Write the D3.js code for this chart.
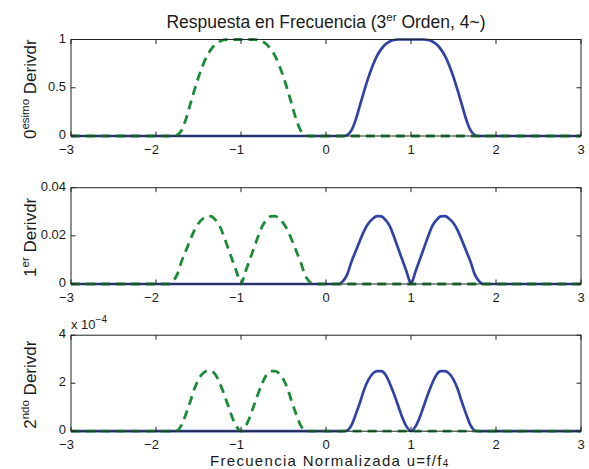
<!DOCTYPE html>
<html><head><meta charset="utf-8">
<script src="https://cdn.jsdelivr.net/npm/d3@7"></script>
<style>
body{margin:0;background:#fff}
text{font-family:"Liberation Sans",Arial,Helvetica,sans-serif;fill:#1a1a1a}
</style>
</head><body>
<svg id="c" width="589" height="469"></svg>
<script>
// ---------- data ----------
const xTicks = [-3, -2, -1, 0, 1, 2, 3];
const xTickLabels = ["\u22123", "\u22122", "\u22121", "0", "1", "2", "3"];

// Panel 1: 0th derivative
const uTopBlue = [-3, 0.2, 0.25, 0.3, 0.35, 0.4, 0.45, 0.5, 0.55, 0.6, 0.65, 0.7, 0.75, 0.8, 0.85, 0.9, 0.95, 1, 1.05, 1.1, 1.15, 1.2, 1.25, 1.3, 1.35, 1.4, 1.45, 1.5, 1.55, 1.6, 1.65, 1.7, 1.75, 1.8, 3];
const topBlue  = [0, 0, 0.01, 0.06, 0.17, 0.32, 0.47, 0.61, 0.73, 0.83, 0.9, 0.95, 0.98, 0.995, 1, 1, 1, 1, 1, 1, 1, 0.995, 0.98, 0.95, 0.9, 0.83, 0.73, 0.61, 0.47, 0.32, 0.17, 0.06, 0.01, 0, 0];
const uTopGreen = [-3, -1.8, -1.75, -1.7, -1.65, -1.6, -1.55, -1.5, -1.45, -1.4, -1.35, -1.3, -1.25, -1.2, -1.15, -1.1, -1.05, -1, -0.95, -0.9, -0.85, -0.8, -0.75, -0.7, -0.65, -0.6, -0.55, -0.5, -0.45, -0.4, -0.35, -0.3, -0.25, -0.2, 3];
const topGreen  = [0, 0, 0.01, 0.06, 0.17, 0.32, 0.47, 0.61, 0.73, 0.83, 0.9, 0.95, 0.98, 0.995, 1, 1, 1, 1, 1, 1, 1, 0.995, 0.98, 0.95, 0.9, 0.83, 0.73, 0.61, 0.47, 0.32, 0.17, 0.06, 0.01, 0, 0];
const topYTicks = [0, 0.5, 1];
const topYTickLabels = ["0", "0.5", "1"];

// Panel 2: 1st derivative
const uMidBlue = [-3, 0.15, 0.2, 0.25, 0.3, 0.35, 0.4, 0.45, 0.5, 0.55, 0.6, 0.65, 0.7, 0.75, 0.8, 0.85, 0.9, 0.95, 1, 1.05, 1.1, 1.15, 1.2, 1.25, 1.3, 1.35, 1.4, 1.45, 1.5, 1.55, 1.6, 1.65, 1.7, 1.75, 1.8, 1.85, 3];
const midBlue  = [0, 0, 0.0012, 0.004, 0.0093, 0.0137, 0.0181, 0.0222, 0.0252, 0.0271, 0.0282, 0.0281, 0.0266, 0.024, 0.0196, 0.0147, 0.0098, 0.0049, 0, 0.0049, 0.0098, 0.0147, 0.0196, 0.024, 0.0266, 0.0281, 0.0282, 0.0271, 0.0252, 0.0222, 0.0181, 0.0137, 0.0093, 0.004, 0.0012, 0, 0];
const uMidGreen = [-3, -1.85, -1.8, -1.75, -1.7, -1.65, -1.6, -1.55, -1.5, -1.45, -1.4, -1.35, -1.3, -1.25, -1.2, -1.15, -1.1, -1.05, -1, -0.95, -0.9, -0.85, -0.8, -0.75, -0.7, -0.65, -0.6, -0.55, -0.5, -0.45, -0.4, -0.35, -0.3, -0.25, -0.2, -0.15, 3];
const midGreen  = [0, 0, 0.0012, 0.004, 0.0093, 0.0137, 0.0181, 0.0222, 0.0252, 0.0271, 0.0282, 0.0281, 0.0266, 0.024, 0.0196, 0.0147, 0.0098, 0.0049, 0, 0.0049, 0.0098, 0.0147, 0.0196, 0.024, 0.0266, 0.0281, 0.0282, 0.0271, 0.0252, 0.0222, 0.0181, 0.0137, 0.0093, 0.004, 0.0012, 0, 0];
const midYTicks = [0, 0.02, 0.04];
const midYTickLabels = ["0", "0.02", "0.04"];

// Panel 3: 2nd derivative (values in units of 1e-4)
const uBotBlue = [-3, 0.2, 0.25, 0.3, 0.35, 0.4, 0.45, 0.5, 0.55, 0.6, 0.65, 0.7, 0.75, 0.8, 0.85, 0.9, 0.95, 1, 1.05, 1.1, 1.15, 1.2, 1.25, 1.3, 1.35, 1.4, 1.45, 1.5, 1.55, 1.6, 1.65, 1.7, 1.75, 1.8, 3];
const botBlue  = [0, 0, 0.03, 0.25, 0.7, 1.2, 1.75, 2.15, 2.4, 2.5, 2.5, 2.35, 2.0, 1.55, 1.05, 0.55, 0.18, 0, 0.18, 0.55, 1.05, 1.55, 2.0, 2.35, 2.5, 2.5, 2.4, 2.15, 1.75, 1.2, 0.7, 0.25, 0.03, 0, 0];
const uBotGreen = [-3, -1.8, -1.75, -1.7, -1.65, -1.6, -1.55, -1.5, -1.45, -1.4, -1.35, -1.3, -1.25, -1.2, -1.15, -1.1, -1.05, -1, -0.95, -0.9, -0.85, -0.8, -0.75, -0.7, -0.65, -0.6, -0.55, -0.5, -0.45, -0.4, -0.35, -0.3, -0.25, -0.2, 3];
const botGreen  = [0, 0, 0.03, 0.25, 0.7, 1.2, 1.75, 2.15, 2.4, 2.5, 2.5, 2.35, 2.0, 1.55, 1.05, 0.55, 0.18, 0, 0.18, 0.55, 1.05, 1.55, 2.0, 2.35, 2.5, 2.5, 2.4, 2.15, 1.75, 1.2, 0.7, 0.25, 0.03, 0, 0];
const botYTicks = [0, 2, 4];
const botYTickLabels = ["0", "2", "4"];

const titleText = ["Respuesta en Frecuencia (3", "er", " Orden, 4~)"];
const xLabelText = ["Frecuencia Normalizada u=f/f", "4"];
const yLabels = [["0", "esimo", " Derivdr"], ["1", "er", " Derivdr"], ["2", "ndo", " Derivdr"]];

// ---------- drawing ----------
const BLUE = "#3142a6", GREEN = "#1d8a3a";
const svg = d3.select("#c");
const L = 71, R = 581;
const x = d3.scaleLinear().domain([-3, 3]).range([L, R]);

const panels = [
  {top: 39.5, bot: 136, max: 1, yt: topYTicks, ytl: topYTickLabels, bu: uTopBlue, bv: topBlue, gu: uTopGreen, gv: topGreen, lab: yLabels[0]},
  {top: 187.7, bot: 284, max: 0.04, yt: midYTicks, ytl: midYTickLabels, bu: uMidBlue, bv: midBlue, gu: uMidGreen, gv: midGreen, lab: yLabels[1]},
  {top: 335.2, bot: 431.2, max: 4, yt: botYTicks, ytl: botYTickLabels, bu: uBotBlue, bv: botBlue, gu: uBotGreen, gv: botGreen, lab: yLabels[2]}
];

panels.forEach((p, i) => {
  const y = d3.scaleLinear().domain([0, p.max]).range([p.bot, p.top]);
  const g = svg.append("g");
  const line = d3.line().x(d => x(d[0])).y(d => y(d[1])).curve(d3.curveMonotoneX);

  // blue solid
  g.append("path").datum(d3.zip(p.bu, p.bv)).attr("d", line)
    .attr("fill", "none").attr("stroke", BLUE).attr("stroke-width", 2.7).attr("stroke-linejoin", "round");
  // green dashed
  g.append("path").datum(d3.zip(p.gu, p.gv)).attr("d", line)
    .attr("fill", "none").attr("stroke", GREEN).attr("stroke-width", 2.8)
    .attr("stroke-dasharray", "9,6");

  // box
  g.append("rect").attr("x", L).attr("y", p.top).attr("width", R - L).attr("height", p.bot - p.top)
    .attr("fill", "none").attr("stroke", "#222").attr("stroke-width", 1);

  // x ticks (bottom & top, inward)
  const tl = 4.5;
  xTicks.forEach((t, k) => {
    g.append("line").attr("x1", x(t)).attr("x2", x(t)).attr("y1", p.bot).attr("y2", p.bot - tl).attr("stroke", "#222");
    g.append("line").attr("x1", x(t)).attr("x2", x(t)).attr("y1", p.top).attr("y2", p.top + tl).attr("stroke", "#222");
    g.append("text").attr("x", x(t) + (t < 0 ? -4.5 : 0)).attr("y", p.bot + 18).attr("text-anchor", "middle")
      .attr("font-size", 13).text(xTickLabels[k]);
  });
  // y ticks (left & right)
  p.yt.forEach((t, k) => {
    g.append("line").attr("x1", L).attr("x2", L + tl).attr("y1", y(t)).attr("y2", y(t)).attr("stroke", "#222");
    g.append("line").attr("x1", R).attr("x2", R - tl).attr("y1", y(t)).attr("y2", y(t)).attr("stroke", "#222");
    g.append("text").attr("x", L - 5).attr("y", y(t) + 3.2).attr("text-anchor", "end")
      .attr("font-size", 13).text(p.ytl[k]);
  });

  // y label
  const cy = (p.top + p.bot) / 2 + 1.5;
  const t = g.append("text").attr("transform", `translate(36,${cy}) rotate(-90)`)
    .attr("text-anchor", "middle").attr("font-size", 17);
  t.append("tspan").text(p.lab[0]);
  t.append("tspan").attr("dy", -7.5).attr("font-size", 11.5).text(p.lab[1]);
  t.append("tspan").attr("dy", 7.5).text(p.lab[2]);

  if (i === 2) {
    const e = g.append("text").attr("x", L).attr("y", p.top - 6).attr("font-size", 13);
    e.append("tspan").text("x 10");
    e.append("tspan").attr("dy", -6).attr("font-size", 10).text("\u22124");
  }
});

// title
const tt = svg.append("text").attr("x", (L + R) / 2).attr("y", 27.5).attr("text-anchor", "middle").attr("font-size", 17.5);
tt.append("tspan").text(titleText[0]);
tt.append("tspan").attr("dy", -6.5).attr("font-size", 11.5).text(titleText[1]);
tt.append("tspan").attr("dy", 6.5).text(titleText[2]);

// x label
const xl = svg.append("text").attr("x", 210).attr("y", 465.6).attr("text-anchor", "start")
  .attr("font-size", 15).attr("letter-spacing", 1.3);
xl.append("tspan").text(xLabelText[0]);
xl.append("tspan").attr("dy", 1).attr("font-size", 10).text(xLabelText[1]);
</script>
</body></html>
